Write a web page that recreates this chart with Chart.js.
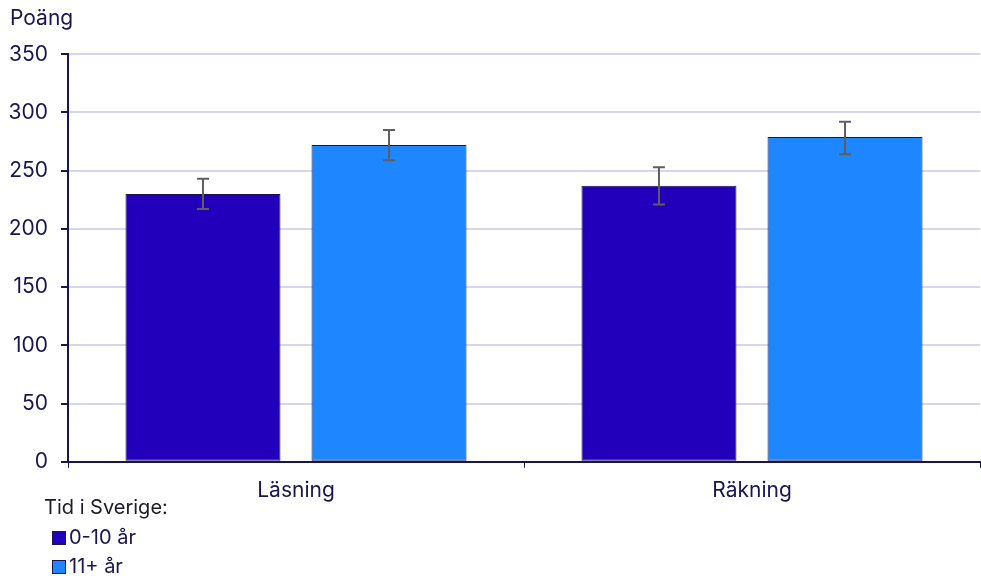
<!DOCTYPE html>
<html lang="sv">
<head>
<meta charset="UTF-8">
<title>Poäng efter tid i Sverige</title>
<script src="https://cdn.jsdelivr.net/npm/chart.js"></script>
<style>
    body { margin: 0; background: #fff; font-family: Inter, sans-serif; }
    .wrap { position: relative; width: 981px; height: 576px; }
    #legend { position: absolute; left: 44px; top: 494px; color: #1a1a2a; font-size: 20px; }
    #legend .ttl { height: 26px; line-height: 26px; margin-bottom: 3px; }
    #legend .item { height: 29px; line-height: 29px; margin-left: 8px; color: #1a1450; display: flex; align-items: center; }
    #legend .box { width: 12px; height: 12px; border: 1px solid #1a1450; margin-right: 3px; }
</style>
</head>
<body>
<div class="wrap">
    <canvas id="chart" width="981" height="576"></canvas>
    <div id="legend"></div>
</div>
<script>
    // data
    const categories = ['Läsning', 'Räkning'];
    const seriesNames = ['0-10 år', '11+ år'];
    const shortStay = [230, 237];
    const longStay = [272, 279];
    const shortLow = [217, 221];
    const shortHigh = [243, 253];
    const longLow = [259, 264];
    const longHigh = [285, 292];
    const yTicks = [0, 50, 100, 150, 200, 250, 300, 350];

    const ink = '#1a1450';
    const colors = ['#2200bb', '#1e86ff'];

    // error bars drawn from the low/high arrays
    const errorBars = {
        id: 'errorBars',
        afterDatasetsDraw(chart) {
            const c = chart.ctx;
            const y = chart.scales.y;
            const ranges = [[shortLow, shortHigh], [longLow, longHigh]];
            c.save();
            c.strokeStyle = '#5f5f5f';
            c.lineWidth = 2;
            chart.data.datasets.forEach((ds, i) => {
                chart.getDatasetMeta(i).data.forEach((bar, j) => {
                    const top = y.getPixelForValue(ranges[i][1][j]);
                    const bot = y.getPixelForValue(ranges[i][0][j]);
                    c.beginPath();
                    c.moveTo(bar.x, top); c.lineTo(bar.x, bot);
                    c.moveTo(bar.x - 6, top); c.lineTo(bar.x + 6, top);
                    c.moveTo(bar.x - 6, bot); c.lineTo(bar.x + 6, bot);
                    c.stroke();
                });
            });
            c.restore();
        }
    };

    Chart.defaults.font.family = 'Inter, sans-serif';
    Chart.defaults.font.size = 21;
    Chart.defaults.color = ink;

    new Chart(document.getElementById('chart'), {
        type: 'bar',
        data: {
            labels: categories,
            datasets: [
                { label: seriesNames[0], data: shortStay, backgroundColor: colors[0], borderColor: ink, borderWidth: 1, borderSkipped: false },
                { label: seriesNames[1], data: longStay, backgroundColor: colors[1], borderColor: ink, borderWidth: 1, borderSkipped: false }
            ]
        },
        options: {
            responsive: false,
            animation: false,
            categoryPercentage: 0.816,
            barPercentage: 0.833,
            layout: { padding: { left: 10, right: 1, top: 0, bottom: 63 } },
            plugins: {
                legend: { display: false },
                tooltip: { enabled: false },
                title: {
                    display: true,
                    text: 'Poäng',
                    align: 'start',
                    color: ink,
                    font: { size: 21, weight: 'normal' },
                    padding: { top: 6, bottom: 23 }
                }
            },
            scales: {
                x: {
                    grid: { drawOnChartArea: false, tickColor: ink, tickLength: 6 },
                    border: { color: ink, width: 2 },
                    ticks: { color: ink, padding: 10 }
                },
                y: {
                    min: 0,
                    max: 350,
                    afterBuildTicks: axis => { axis.ticks = yTicks.map(v => ({ value: v })); },
                    afterFit: axis => { axis.width = 58; },
                    grid: { color: '#d6d4ee', lineWidth: 2, tickColor: ink, tickLength: 7 },
                    border: { color: ink, width: 2 },
                    ticks: { color: ink, padding: 13 }
                }
            }
        },
        plugins: [errorBars]
    });

    // legend below the chart, stacked like the original
    const legend = document.getElementById('legend');
    legend.innerHTML = '<div class="ttl">Tid i Sverige:</div>' + seriesNames.map((n, i) =>
        `<div class="item"><span class="box" style="background:${colors[i]}"></span>${n}</div>`).join('');
</script>
</body>
</html>
